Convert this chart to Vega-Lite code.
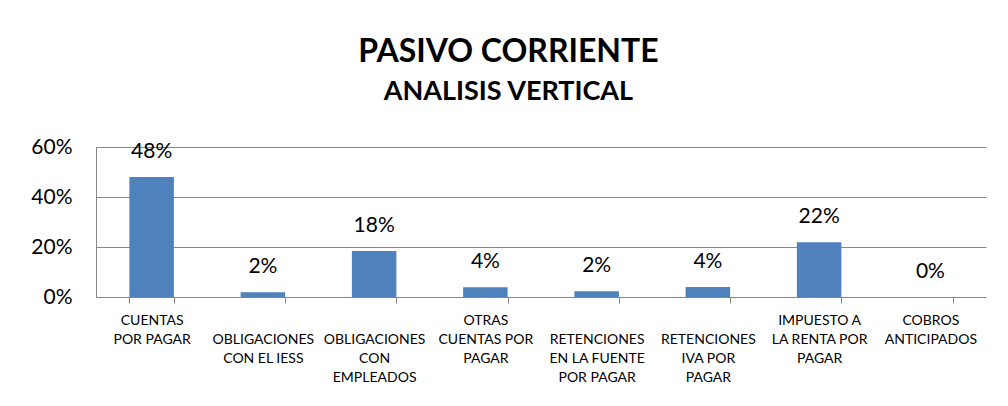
{
  "$schema": "https://vega.github.io/schema/vega-lite/v6.json",
  "width": 890,
  "height": 150,
  "padding": {"left": 30, "top": 36, "right": 22, "bottom": 5},
  "background": "white",
  "title": {
    "text": "PASIVO CORRIENTE",
    "subtitle": "ANALISIS VERTICAL",
    "font": "Lato",
    "fontSize": 32,
    "fontWeight": "bold",
    "color": "black",
    "subtitleFont": "Lato",
    "subtitleFontSize": 27,
    "subtitleFontWeight": "bold",
    "subtitleColor": "black",
    "subtitlePadding": 10,
    "offset": 30,
    "anchor": "middle",
    "frame": "bounds"
  },
  "data": {
    "values": [
      {"cuenta": "CUENTAS|POR PAGAR", "valor": 0.48},
      {"cuenta": "|OBLIGACIONES|CON EL IESS", "valor": 0.019},
      {"cuenta": "|OBLIGACIONES|CON|EMPLEADOS", "valor": 0.184},
      {"cuenta": "OTRAS|CUENTAS POR|PAGAR", "valor": 0.039},
      {"cuenta": "|RETENCIONES|EN LA FUENTE|POR PAGAR", "valor": 0.023},
      {"cuenta": "|RETENCIONES|IVA POR|PAGAR", "valor": 0.04},
      {"cuenta": "IMPUESTO A|LA RENTA POR|PAGAR", "valor": 0.219},
      {"cuenta": "COBROS|ANTICIPADOS", "valor": 0.0}
    ]
  },
  "encoding": {
    "x": {
      "field": "cuenta",
      "type": "nominal",
      "sort": null,
      "scale": {"paddingInner": 0.6, "paddingOuter": 0.3},
      "axis": {
        "title": null,
        "labelAngle": 0,
        "labelExpr": "split(datum.label, '|')",
        "labelFont": "Lato",
        "labelFontSize": 14,
        "labelLineHeight": 19,
        "labelColor": "black",
        "labelPadding": 10,
        "labelBaseline": "top",
        "labelLimit": 300,
        "labelOverlap": false,
        "labelBound": false,
        "tickBand": "extent",
        "tickSize": 6,
        "tickColor": "#868686",
        "domainColor": "#868686",
        "grid": false
      }
    },
    "y": {
      "field": "valor",
      "type": "quantitative",
      "scale": {"domain": [0, 0.6], "nice": false},
      "axis": {
        "title": null,
        "values": [0, 0.2, 0.4, 0.6],
        "format": ".0%",
        "ticks": false,
        "domain": true,
        "domainColor": "#868686",
        "grid": true,
        "gridColor": "#868686",
        "labelFont": "Lato",
        "labelFontSize": 21,
        "labelColor": "black",
        "labelPadding": 24
      }
    }
  },
  "layer": [
    {"mark": {"type": "bar", "color": "#4F81BD"}},
    {
      "mark": {"type": "text", "baseline": "alphabetic", "dy": -19, "font": "Lato", "fontSize": 21, "color": "black"},
      "encoding": {"text": {"field": "valor", "type": "quantitative", "format": ".0%"}}
    }
  ],
  "config": {"view": {"stroke": null}}
}
